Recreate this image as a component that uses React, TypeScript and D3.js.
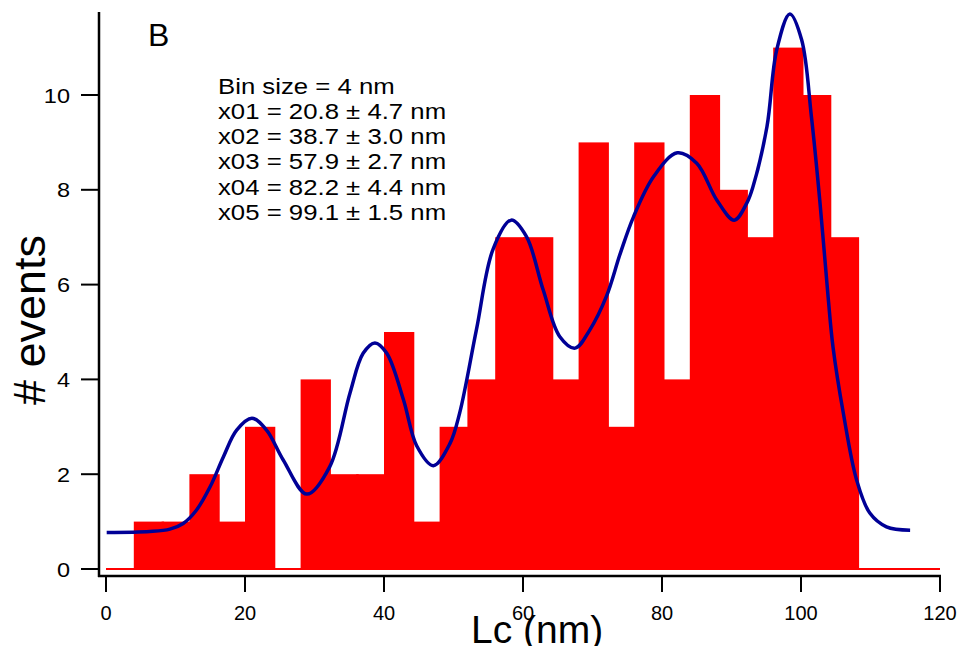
import React from "react";
import * as d3 from "d3";

// Histogram of contour lengths (4 nm bins)
const binStarts = [4, 8, 12, 16, 20, 24, 28, 32, 36, 40, 44, 48, 52, 56, 60, 64, 68, 72, 76, 80, 84, 88, 92, 96, 100, 104];
const binCounts = [1, 1, 2, 1, 3, 0, 4, 2, 2, 5, 1, 3, 4, 7, 7, 4, 9, 3, 9, 4, 10, 8, 7, 11, 10, 7];
const binSize = 4;

// Multi-peak fit curve, sampled along Lc
const fitLc = [
  0.1, 6.3, 9.2, 11.1, 13.0, 15.0, 16.9, 18.8, 21.0, 23.1, 25.5, 28.9, 32.2, 35.1, 37.0, 38.7, 40.4, 42.8,
  44.7, 47.1, 49.5, 50.9, 53.3, 55.7, 58.3, 60.5, 62.9, 65.3, 67.5, 69.6, 72.0, 74.0, 75.9, 78.8, 82.2,
  85.0, 87.9, 90.4, 92.2, 93.1, 95.1, 96.5, 98.4, 100.1, 101.5, 102.7, 103.9, 104.6, 106.1, 108.0, 109.9,
  112.3, 115.7,
];
const fitEvents = [
  0.77, 0.79, 0.84, 0.96, 1.24, 1.74, 2.37, 2.93, 3.18, 2.93, 2.3, 1.58, 2.16, 3.71, 4.55, 4.77, 4.55, 3.57,
  2.6, 2.18, 2.65, 3.3, 5.05, 6.75, 7.36, 7.01, 5.89, 4.9, 4.66, 5.04, 5.75, 6.66, 7.43, 8.28, 8.78,
  8.56, 7.78, 7.36, 7.72, 8.07, 9.33, 10.95, 11.71, 11.16, 9.54, 7.78, 5.74, 4.69, 3.28, 1.88, 1.18,
  0.89, 0.82,
];

const xTicks = [0, 20, 40, 60, 80, 100, 120];
const yTicks = [0, 2, 4, 6, 8, 10];

const panelLabel = "B";
const fitNotes = [
  "Bin size = 4 nm",
  "x01 = 20.8 ± 4.7 nm",
  "x02 = 38.7 ± 3.0 nm",
  "x03 = 57.9 ± 2.7 nm",
  "x04 = 82.2 ± 4.4 nm",
  "x05 = 99.1 ± 1.5 nm",
];

const W = 964;
const H = 646;
const FONT = "'Liberation Sans', Arial, sans-serif";

export default function App() {
  const x = d3.scaleLinear().domain([0, 120]).range([106, 940]);
  const y = d3.scaleLinear().domain([0, 10]).range([569, 95]);

  const axisLeftX = 99;
  const axisBottomY = 576;

  const fitPts: [number, number][] = fitLc.map((v, i) => [v, fitEvents[i]]);
  const line = d3
    .line<[number, number]>()
    .x((d) => x(d[0]))
    .y((d) => y(d[1]))
    .curve(d3.curveCatmullRom.alpha(0.5));

  return (
    <svg
      width={W}
      height={H}
      viewBox={`0 0 ${W} ${H}`}
      style={{ position: "absolute", left: 0, top: 0, background: "#fff" }}
      fontFamily={FONT}
    >
      {/* bars */}
      <g fill="#ff0000">
        {binStarts.map((b, i) =>
          binCounts[i] > 0 ? (
            <rect
              key={b}
              x={x(b)}
              y={y(binCounts[i])}
              width={x(b + binSize) - x(b) + 2.5}
              height={y(0) - y(binCounts[i])}
            />
          ) : null
        )}
      </g>
      {/* zero line of the histogram */}
      <line x1={x(0)} x2={x(120)} y1={y(0)} y2={y(0)} stroke="#ff0000" strokeWidth={2} />

      {/* fit curve */}
      <path d={line(fitPts) ?? ""} fill="none" stroke="#000096" strokeWidth={3.5} />

      {/* y axis */}
      <line x1={axisLeftX} x2={axisLeftX} y1={12} y2={axisBottomY + 1} stroke="#000" strokeWidth={2.5} />
      {yTicks.map((t) => (
        <g key={t}>
          <line x1={81} x2={axisLeftX} y1={y(t)} y2={y(t)} stroke="#000" strokeWidth={2} />
          <text
            transform={`translate(70,${y(t)}) scale(1.12,1)`}
            dy="0.36em"
            textAnchor="end"
            fontSize={21}
          >
            {t}
          </text>
        </g>
      ))}

      {/* x axis */}
      <line x1={axisLeftX - 1} x2={941} y1={axisBottomY} y2={axisBottomY} stroke="#000" strokeWidth={2.5} />
      {xTicks.map((t) => (
        <g key={t}>
          <line x1={x(t)} x2={x(t)} y1={axisBottomY} y2={592} stroke="#000" strokeWidth={2} />
          <text x={x(t)} y={620} textAnchor="middle" fontSize={20}>
            {t}
          </text>
        </g>
      ))}

      {/* axis titles */}
      <text x={471} y={643} fontSize={39}>
        Lc (nm)
      </text>
      <text transform="translate(45,320) rotate(-90)" textAnchor="middle" fontSize={45}>
        # events
      </text>

      {/* panel label and fit notes */}
      <text x={148} y={46} fontSize={32}>
        {panelLabel}
      </text>
      {fitNotes.map((s, i) => (
        <text key={i} transform={`translate(218,${93.5 + i * 25.3}) scale(1.12,1)`} fontSize={23}>
          {s}
        </text>
      ))}
    </svg>
  );
}
